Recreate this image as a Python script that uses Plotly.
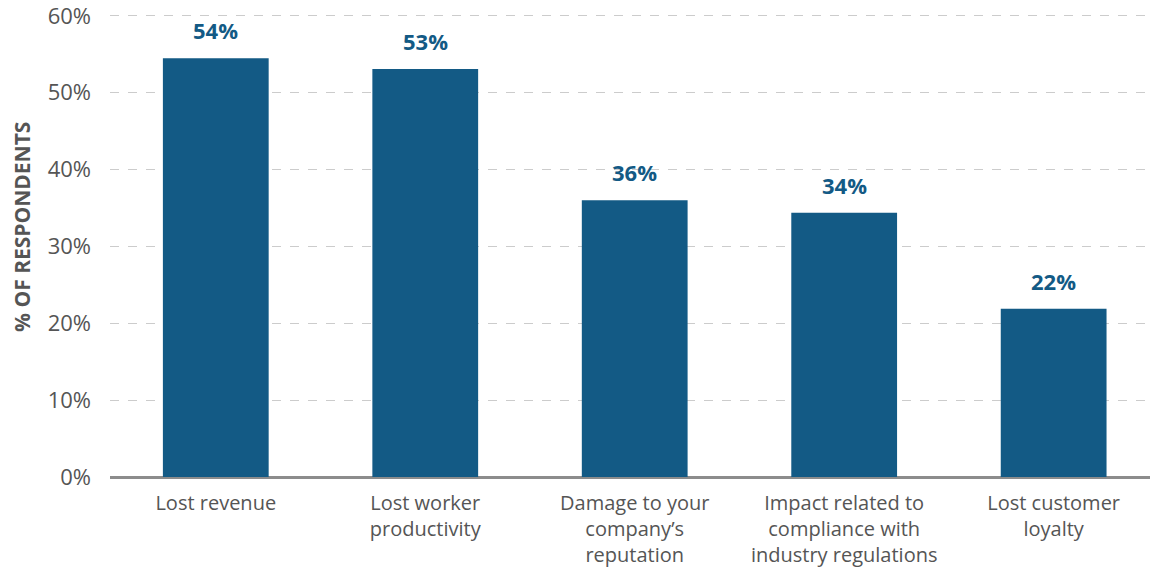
import plotly.graph_objects as go

categories = ["Lost revenue", "Lost worker<br>productivity", "Damage to your<br>company’s<br>reputation",
              "Impact related to<br>compliance with<br>industry regulations", "Lost customer<br>loyalty"]
values = [54.5, 53.1, 36.0, 34.4, 21.9]
value_labels = ["54%", "53%", "36%", "34%", "22%"]
y_ticks = [0, 10, 20, 30, 40, 50, 60]
y_tick_labels = ["0%", "10%", "20%", "30%", "40%", "50%", "60%"]

bar_color = "#135a85"
gray = "#555555"
font_family = "Open Sans, sans-serif"

fig = go.Figure()
fig.add_trace(go.Bar(
    x=categories, y=values, marker=dict(color=bar_color, line=dict(width=0)),
    width=0.505, hoverinfo="skip",
))
for c, v, t in zip(categories, values, value_labels):
    fig.add_annotation(x=c, y=v, text=f"<b>{t}</b>", showarrow=False, yanchor="bottom",
                       yshift=11, font=dict(size=22, color=bar_color, family=font_family))

fig.add_annotation(xref="paper", yref="paper", x=(22 - 110) / 1040, y=(477 - 228) / 461,
                   text="<b>% OF RESPONDENTS</b>", textangle=-90, showarrow=False,
                   xanchor="center", yanchor="middle",
                   font=dict(size=21, color=gray, family=font_family))

fig.update_layout(
    width=1150, height=569,
    margin=dict(l=110, r=0, t=14, b=92),
    plot_bgcolor="white", paper_bgcolor="white",
    showlegend=False,
    font=dict(family=font_family, color=gray, size=20),
    xaxis=dict(range=[-0.505, 4.46], showgrid=False, showline=False, ticks="",
               ticklabelstandoff=12, tickfont=dict(size=20, color=gray)),
    yaxis=dict(range=[0, 60.25], tickvals=y_ticks, ticktext=y_tick_labels,
               showgrid=True, gridcolor="#cccccc", griddash="dash", gridwidth=1,
               zeroline=True, zerolinecolor="#8c8c8c", zerolinewidth=3,
               ticks="", ticklabelstandoff=18, ticklabeloverflow="allow",
               tickfont=dict(size=22, color=gray)),
)

fig.write_html("out.html")
